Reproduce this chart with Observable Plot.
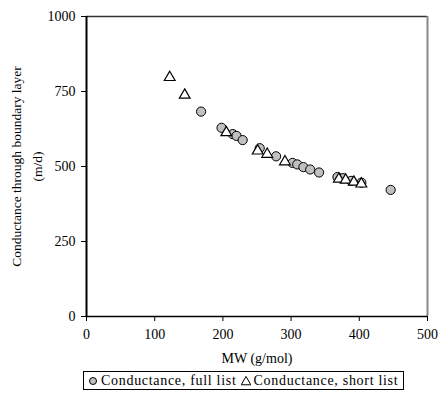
<!DOCTYPE html>
<html>
<head>
<meta charset="utf-8">
<script src="https://cdn.jsdelivr.net/npm/d3@7"></script>
<script src="https://cdn.jsdelivr.net/npm/@observablehq/plot@0.6"></script>
<style>
  body { margin: 0; background: #fff; font-family: "Liberation Serif", "Times New Roman", serif; }
  #chart svg { display: block; }
  .legend { margin-left: 83px; margin-top: 3px; display: inline-flex; align-items: center; border: 1px solid #000; padding: 0 5px 0 4px; height: 17px; font-size: 14px; letter-spacing: 0.7px; color: #000; white-space: nowrap; }
  .legend svg { margin-right: 3px; }
  .legend .item { display: inline-flex; align-items: center; }
</style>
</head>
<body>
<div id="chart"></div>
<script>
// Data
const fullMW   = [168, 198, 214.5, 220, 229, 254, 278, 302, 309, 318, 328, 341, 368, 376, 388, 403, 446];
const fullCond = [683, 629, 608, 602, 588, 561, 534, 512, 507, 498, 490, 480, 465, 461, 452, 446, 422];
const shortMW   = [122, 144, 205, 251, 265, 291, 370, 380, 392, 403];
const shortCond = [797, 738, 613, 552, 541, 516, 458, 455, 448, 442];
const xTicks = [0, 100, 200, 300, 400, 500];
const yTicks = [0, 250, 500, 750, 1000];
const seriesNames = ["Conductance, full list", "Conductance, short list"];
const xTitle = "MW (g/mol)";
const yTitle = "Conductance through boundary layer\n(m/d)";

const full = fullMW.map((mw, i) => ({mw, c: fullCond[i]}));
const short = shortMW.map((mw, i) => ({mw, c: shortCond[i]}));

const font = "Liberation Serif, Times New Roman, serif";
const fs = 14;

const plot = Plot.plot({
  width: 439,
  height: 368,
  marginLeft: 86,
  marginRight: 12,
  marginTop: 16,
  marginBottom: 52,
  style: {fontFamily: font, fontSize: fs + "px", color: "#000", background: "#fff"},
  x: {domain: [0, 500], label: null},
  y: {domain: [0, 1000], label: null},
  marks: [
    Plot.axisX({ticks: xTicks, tickFormat: d3.format("d"), tickSize: 5, tickPadding: 8, label: null, stroke: "#000", strokeWidth: 1, fontSize: fs}),
    Plot.axisY({ticks: yTicks, tickFormat: d3.format("d"), tickSize: 5, tickPadding: 6, label: null, stroke: "#000", strokeWidth: 1, fontSize: fs}),
    Plot.ruleY([1000], {stroke: "#333", strokeWidth: 1.5}),
    Plot.ruleX([500], {stroke: "#888", strokeWidth: 2}),
    Plot.ruleX([0], {stroke: "#000", strokeWidth: 2}),
    Plot.ruleY([0], {stroke: "#000", strokeWidth: 1.5}),
    Plot.dot(full, {x: "mw", y: "c", r: 4.6, fill: "#c0c0c0", stroke: "#000", strokeWidth: 1}),
    Plot.dot(short, {x: "mw", y: "c", symbol: "triangle", r: 4, fill: "#fff", stroke: "#000", strokeWidth: 1.2}),
    Plot.text([xTitle], {frameAnchor: "bottom", dy: 46, text: d => d, fontSize: fs, fill: "#000"}),
    Plot.text([yTitle], {frameAnchor: "left", rotate: -90, dx: -61.5, text: d => d, fontSize: 13.5, lineHeight: 1.55, lineAnchor: "middle", textAnchor: "middle", fill: "#000"})
  ]
});
document.getElementById("chart").appendChild(plot);

// Legend below the SVG
const legend = document.createElement("div");
legend.className = "legend";
function swatch(kind) {
  const s = d3.create("svg").attr("width", 10).attr("height", 10);
  if (kind === 0) {
    s.append("circle").attr("cx", 5).attr("cy", 5).attr("r", 3.5).attr("fill", "#c0c0c0").attr("stroke", "#000");
  } else {
    s.append("path").attr("transform", "translate(5,6)").attr("d", d3.symbol(d3.symbolTriangle, 40)()).attr("fill", "#fff").attr("stroke", "#000");
  }
  return s.node();
}
seriesNames.forEach((name, i) => {
  const item = document.createElement("span");
  item.className = "item";
  if (i > 0) item.style.marginLeft = "4px";
  item.appendChild(swatch(i));
  item.appendChild(document.createTextNode(name));
  legend.appendChild(item);
});
document.body.appendChild(legend);
</script>
</body>
</html>
